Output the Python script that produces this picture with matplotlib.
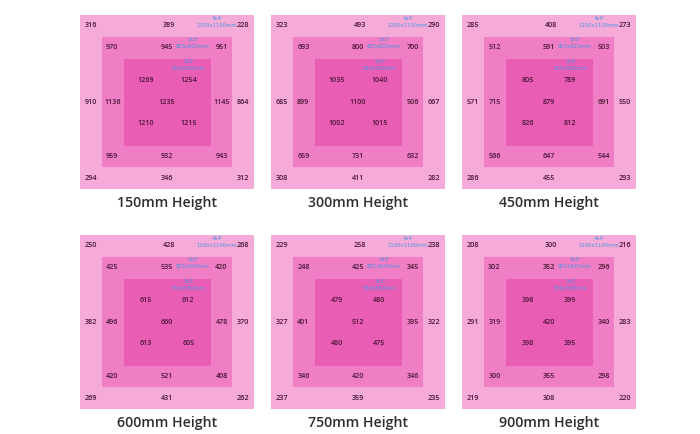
import matplotlib
matplotlib.use("Agg")
import matplotlib.pyplot as plt
from matplotlib.patches import Rectangle

heights = ["150mm Height", "300mm Height", "450mm Height",
           "600mm Height", "750mm Height", "900mm Height"]

# outer ring: TL, TC, TR, ML, MR, BL, BC, BR
outer_vals = [
    [316, 389, 228, 910, 864, 294, 346, 312],
    [323, 493, 290, 685, 667, 308, 411, 282],
    [285, 408, 273, 571, 550, 286, 455, 293],
    [250, 428, 268, 382, 370, 269, 431, 262],
    [229, 258, 238, 327, 322, 237, 359, 235],
    [208, 300, 216, 291, 283, 219, 308, 220],
]
# middle ring: TL, TC, TR, ML, MR, BL, BC, BR
middle_vals = [
    [970, 945, 951, 1136, 1145, 959, 932, 943],
    [693, 800, 700, 899, 906, 659, 731, 632],
    [512, 591, 503, 715, 691, 566, 647, 544],
    [425, 535, 420, 496, 478, 420, 521, 408],
    [248, 425, 345, 401, 395, 346, 420, 346],
    [302, 352, 296, 319, 340, 300, 355, 298],
]
# inner: TL, TR, C, BL, BR
inner_vals = [
    [1269, 1254, 1235, 1210, 1215],
    [1035, 1040, 1100, 1002, 1015],
    [805, 789, 879, 826, 812],
    [615, 612, 660, 613, 605],
    [479, 480, 512, 480, 475],
    [398, 399, 420, 398, 395],
]
square_sizes = [1100, 825, 550]   # mm
square_names = ["4x4'", "3x3'", "2x2'"]

W, H = 700, 434
fig = plt.figure(figsize=(W / 100, H / 100), dpi=100)
fig.patch.set_facecolor("white")

colors = ["#F5AAD8", "#EF7EC5", "#EA5DB5"]
txt_col = "#4A1838"
blue = "#4A95E6"

lefts = [80, 271, 462]
tops = [15, 235]
box = 174

num_kw = dict(ha="center", va="center", fontsize=5.2, color=txt_col,
              family=["Open Sans", "DejaVu Sans"], weight="semibold")

oc, mc, ic = 482, 345, 135
for i in range(6):
    r, c = divmod(i, 3)
    l, t = lefts[c], tops[r]
    ax = fig.add_axes([l / W, 1 - (t + box) / H, box / W, box / H])
    ax.set_xlim(-550, 550)
    ax.set_ylim(-550, 550)
    ax.axis("off")
    for s, col in zip(square_sizes, colors):
        ax.add_patch(Rectangle((-s / 2, -s / 2), s, s, facecolor=col,
                               edgecolor="none"))
    o = outer_vals[i]
    opos = [(-oc, oc), (15, oc), (oc, oc), (-oc, 0), (oc, 0),
            (-oc, -oc), (0, -oc), (oc, -oc)]
    for v, (x, y) in zip(o, opos):
        ax.text(x, y, str(v), **num_kw)
    m = middle_vals[i]
    mpos = [(-mc, mc), (0, mc), (mc, mc), (-mc, 0), (mc, 0),
            (-mc, -mc), (0, -mc), (mc, -mc)]
    for v, (x, y) in zip(m, mpos):
        ax.text(x, y, str(v), **num_kw)
    n = inner_vals[i]
    ipos = [(-ic, ic), (ic, ic), (0, 0), (-ic, -ic), (ic, -ic)]
    for v, (x, y) in zip(n, ipos):
        ax.text(x, y, str(v), **num_kw)
    # size labels
    lab_pos = [(316, 530, 484), (164, 393, 349), (139, 254, 212)]
    for s, name, (x, y1, y2) in zip(square_sizes, square_names, lab_pos):
        ax.text(x, y1, name, ha="center", va="center", fontsize=3.8,
                color=blue)
        ax.text(x, y2, f"{s}x{s}mm", ha="center", va="center",
                fontsize=3.8, color=blue)
    fig.text((l + box / 2) / W, 1 - (t + box + 14) / H, heights[i],
             ha="center", va="center", fontsize=10.2, color="#2E2E2E",
             family=["Open Sans", "DejaVu Sans"], weight="semibold")

fig.savefig("out.png", dpi=100, facecolor="white")
